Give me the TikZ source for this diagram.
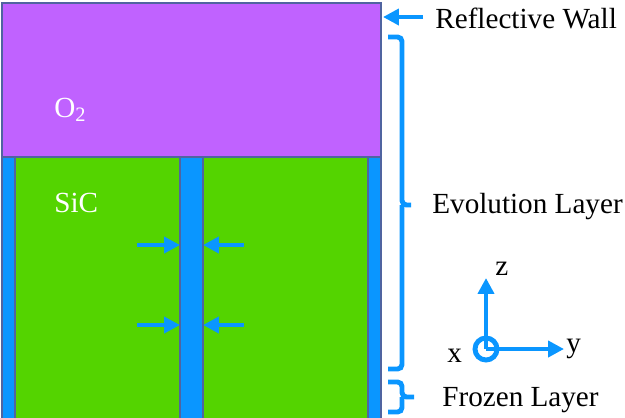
\documentclass[tikz,border=0pt]{standalone}
\usepackage{fontspec}
\setmainfont{Liberation Serif}
\usetikzlibrary{arrows.meta}
\definecolor{oxpurple}{RGB}{192,98,255}
\definecolor{sicgreen}{RGB}{84,212,0}
\definecolor{wallblue}{RGB}{10,150,255}
\definecolor{edgeblue}{RGB}{80,100,160}
\definecolor{markblue}{RGB}{10,150,255}
\begin{document}
\begin{tikzpicture}[x=0.02cm, y=-0.02cm,
  every node/.style={font=\fontsize{16.6}{20}\selectfont, inner sep=0pt},
  layer/.style={draw=edgeblue, line width=0.9pt},
  arr/.style={-{Triangle[length=9pt, width=9pt]}, draw=markblue, line width=2.8pt},
  brace/.style={draw=markblue, line width=2.8pt, rounded corners=2.5pt},
  lbl/.style={anchor=west, text=black},
  inlbl/.style={anchor=west, text=white}
]
\useasboundingbox (0,0) rectangle (625,417);
\begin{scope}
\clip (0,0) rectangle (625,417);
% oxygen region and SiC columns
\path[layer, fill=oxpurple] (2,3) rectangle (381,157);
\path[layer, fill=wallblue] (2,157) rectangle (15,430);
\path[layer, fill=sicgreen] (15,157) rectangle (180,430);
\path[layer, fill=wallblue] (180,157) rectangle (203,430);
\path[layer, fill=sicgreen] (203,157) rectangle (368,430);
\path[layer, fill=wallblue] (368,157) rectangle (381,430);
\end{scope}
\node[inlbl] (o2) at (54,110) {O\textsubscript{2}};
\node[inlbl] (sic) at (54,203) {SiC};
% arrows pointing at the middle strip
\coordinate (gapl1) at (180,245);
\coordinate (gapr1) at (203,245);
\coordinate (gapl2) at (180,325);
\coordinate (gapr2) at (203,325);
\draw[arr] (137,245) -- (gapl1);
\draw[arr] (244,245) -- (gapr1);
\draw[arr] (137,325) -- (gapl2);
\draw[arr] (244,325) -- (gapr2);
% labels on the right
\node[lbl] (wall) at (435,18) {Reflective Wall};
\node[lbl] (evol) at (432,207) {Evolution Layer};
\node[lbl] (frozen) at (442,400) {Frozen Layer};
\coordinate (walltop) at (383,17);
\draw[arr] (423,17) -- (walltop);
\draw[brace] (388,37) -| (402,205) -- (411,205);
\draw[brace] (388,369) -| (402,205);
\draw[brace] (388,382) -| (402,397) -- (414,397);
\draw[brace] (388,412) -| (402,397);
% axes
\coordinate (orig) at (486,349);
\draw[markblue, line width=2.8pt] (orig) circle (11);
\draw[arr] (orig) -- (486,278);
\draw[arr] (orig) -- (564,349);
\node[anchor=base west] (zlbl) at (495,275) {z};
\node[anchor=base west] (ylbl) at (566,352) {y};
\node[anchor=base west] (xlbl) at (447,362) {x};
\end{tikzpicture}
\end{document}
